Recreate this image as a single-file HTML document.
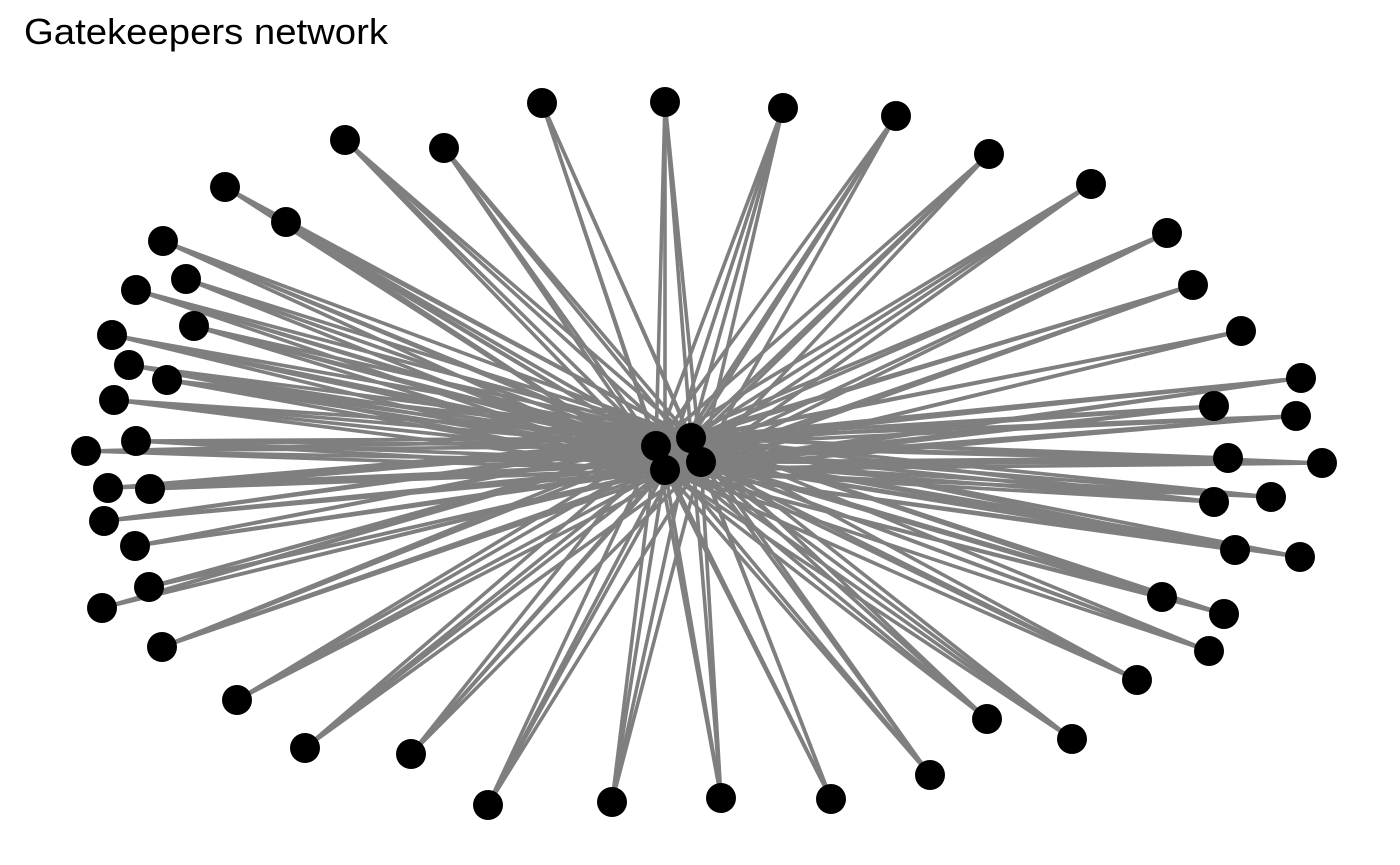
<!DOCTYPE html>
<html><head><meta charset="utf-8"><style>
body{margin:0;background:#fff;}
svg{display:block;}
</style></head><body>
<svg width="1400" height="865">
<text x="24" y="44" font-family="Liberation Sans, sans-serif" font-size="36" textLength="364" lengthAdjust="spacingAndGlyphs" fill="#000">Gatekeepers network</text>
<g id="edges"></g>
<g id="nodes"></g>
</svg>
<script>
const hubX=[656,691,665,701];
const hubY=[446,438,470,462];
const nodeX=[542,665,783,896,989,1091,1167,1193,1241,1301,1214,1296,1228,1322,1271,1214,1235,1300,1162,1224,1209,1137,987,1072,930,831,721,612,488,411,305,237,162,102,149,135,104,108,150,86,136,114,167,129,112,194,136,186,163,286,225,345,444];
const nodeY=[103,102,108,116,154,184,233,285,331,378,406,416,458,463,497,502,550,557,597,614,651,680,719,739,775,799,798,802,805,754,748,700,647,608,587,546,521,488,489,451,441,400,380,365,335,326,290,279,241,222,187,140,148];
const NS="http://www.w3.org/2000/svg";
const eg=document.getElementById('edges'), ng=document.getElementById('nodes');
for(let i=0;i<nodeX.length;i++){
  for(let h=0;h<hubX.length;h++){
    const l=document.createElementNS(NS,'line');
    l.setAttribute('x1',nodeX[i]);l.setAttribute('y1',nodeY[i]);
    l.setAttribute('x2',hubX[h]);l.setAttribute('y2',hubY[h]);
    l.setAttribute('stroke','#7f7f7f');l.setAttribute('stroke-width','3.6');
    
    
    eg.appendChild(l);
  }
}
function dot(x,y,name){
  const c=document.createElementNS(NS,'circle');
  c.setAttribute('cx',x);c.setAttribute('cy',y);c.setAttribute('r',15);c.setAttribute('fill','#000');
  
  
  ng.appendChild(c);
}
for(let i=0;i<nodeX.length;i++) dot(nodeX[i],nodeY[i],'peripheral-node');
for(let h=0;h<hubX.length;h++) dot(hubX[h],hubY[h],'gatekeeper-node');
</script>
</body></html>
